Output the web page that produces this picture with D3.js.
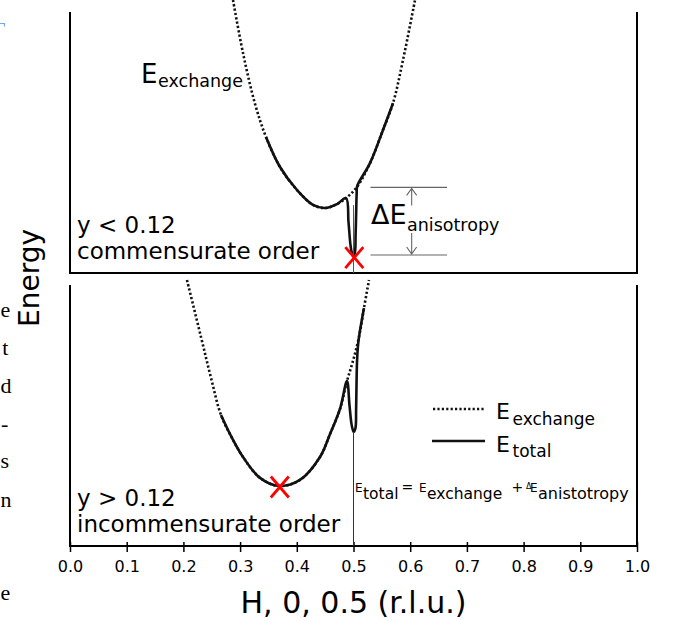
<!DOCTYPE html>
<html>
<head>
<meta charset="utf-8">
<script src="https://cdn.jsdelivr.net/npm/d3@7"></script>
<style>
  body { margin: 0; background: #fff; }
  svg { display: block; }
  text { font-family: "DejaVu Sans", sans-serif; fill: #000; }
</style>
</head>
<body>
<svg id="chart" width="673" height="621"></svg>
<script>
// ---- data -------------------------------------------------------------
// x-axis ticks (H in r.l.u.)
const hTicks = [0.0, 0.1, 0.2, 0.3, 0.4, 0.5, 0.6, 0.7, 0.8, 0.9, 1.0];

// Commensurate order (y < 0.12): exchange energy (arbitrary units)
const commH        = [0.2875, 0.3051, 0.3263, 0.3457, 0.3704, 0.4004, 0.4286, 0.4497, 0.4709, 0.4868, 0.5062, 0.5291, 0.5520, 0.5697, 0.5873, 0.6085];
const commExchange = [10.46, 8.43, 6.48, 5.21, 4.06, 3.18, 2.61, 2.49, 2.64, 2.87, 3.30, 4.21, 5.48, 6.51, 8.16, 10.46];
// Commensurate order: total energy (exchange + anisotropy well at H = 0.5)
const commTotalH   = [0.3457, 0.3704, 0.4004, 0.4286, 0.4497, 0.4709, 0.4868, 0.4912, 0.4947, 0.4974, 0.5000, 0.5026, 0.5037, 0.5048, 0.5056, 0.5065, 0.5291, 0.5520, 0.5697];
const commTotal    = [5.21, 4.06, 3.18, 2.61, 2.49, 2.64, 2.87, 1.95, 1.07, 0.75, 0.63, 0.80, 1.46, 2.41, 3.07, 3.33, 4.21, 5.48, 6.51];

// Incommensurate order (y > 0.12): exchange energy
const incH         = [0.2063, 0.2310, 0.2487, 0.2663, 0.2857, 0.3051, 0.3351, 0.3686, 0.4056, 0.4409, 0.4586, 0.4762, 0.4885, 0.4991, 0.5097, 0.5185, 0.5273];
const incExchange  = [10.19, 8.01, 6.44, 5.02, 4.14, 3.41, 2.61, 2.30, 2.53, 3.41, 4.29, 5.25, 6.32, 7.09, 8.01, 9.12, 10.19];
// Incommensurate order: total energy
const incTotalH    = [0.2663, 0.2857, 0.3051, 0.3351, 0.3686, 0.4056, 0.4409, 0.4586, 0.4762, 0.4885, 0.4929, 0.4965, 0.4991, 0.5005, 0.5035, 0.5046, 0.5053, 0.5062, 0.5076, 0.5097, 0.5185];
const incTotal     = [5.02, 4.14, 3.41, 2.61, 2.30, 2.53, 3.41, 4.29, 5.25, 6.32, 5.40, 4.67, 4.43, 4.37, 4.52, 5.21, 6.17, 7.05, 7.59, 8.01, 9.12];

// Ground states (minimum of the total energy)
const commMinimum = [0.5000, 0.63];
const incMinimum  = [0.3686, 2.30];

// Anisotropy gap drawn in the upper panel
const anisoLevels = [3.28, 0.69];

// Stray characters from the neighbouring text column
const marginChars     = ["e", "t", "d", "-", "s", "n", "e"];
const marginBaselines = [317, 355, 393, 431, 468, 507, 600];

// ---- scales -----------------------------------------------------------
const svg = d3.select("#chart");
const x = d3.scaleLinear().domain([0, 1]).range([70, 637]);
const yTop = d3.scaleLinear().domain([0, 10]).range([273, 12]);
const yBot = d3.scaleLinear().domain([0, 10]).range([546, 285]);

const lineFor = y => d3.line()
  .x(d => x(d[0])).y(d => y(d[1]))
  .curve(d3.curveCatmullRom.alpha(0.5));

// ---- panel frames -----------------------------------------------------
function frame(y) {
  const g = svg.append("g").attr("stroke", "#000").attr("stroke-width", 2).attr("fill", "none");
  const [b, t] = y.range();
  g.append("path").attr("d", `M${x(0)},${t}V${b}H${x(1)}V${t}`);
}
frame(yTop);
frame(yBot);

// bottom axis with ticks crossing the frame line
const axis = d3.axisBottom(x).tickValues(hTicks).tickFormat(d3.format(".1f")).tickSizeOuter(0);
const ax = svg.append("g").attr("transform", `translate(0,${yBot(0)})`).call(axis);
ax.select(".domain").remove();
ax.selectAll(".tick line").attr("y1", -4).attr("y2", 6).attr("stroke", "#000").attr("stroke-width", 1.5);
ax.selectAll(".tick text").attr("y", 25.5).attr("dy", null)
  .style("font-family", "'DejaVu Sans', sans-serif").style("font-size", "16px").attr("fill", "#000");

// axis titles
svg.append("text").attr("x", x(0.5)).attr("y", 613).attr("text-anchor", "middle")
  .style("font-size", "30px").text("H, 0, 0.5 (r.l.u.)");
svg.append("text").attr("transform", "translate(39,278) rotate(-90)").attr("text-anchor", "middle")
  .style("font-size", "28px").text("Energy");

// ---- curves -----------------------------------------------------------
function drawPanel(y, hx, ex, ht, et) {
  svg.append("path").datum(d3.zip(hx, ex)).attr("d", lineFor(y))
    .attr("fill", "none").attr("stroke", "#111").attr("stroke-width", 2.6)
    .attr("stroke-dasharray", "2.2,2.2");
  svg.append("path").datum(d3.zip(ht, et)).attr("d", lineFor(y))
    .attr("fill", "none").attr("stroke", "#111").attr("stroke-width", 2.6)
    .attr("stroke-linejoin", "round");
}
drawPanel(yTop, commH, commExchange, commTotalH, commTotal);
drawPanel(yBot, incH, incExchange, incTotalH, incTotal);

// thin guides at H = 0.5
svg.append("line").attr("x1", x(0.5)).attr("x2", x(0.5)).attr("y1", yTop(2.6)).attr("y2", yTop(0))
  .attr("stroke", "#555").attr("stroke-width", 1);
svg.append("line").attr("x1", x(0.5)).attr("x2", x(0.5)).attr("y1", yBot(incTotal[13])).attr("y2", yBot(0))
  .attr("stroke", "#333").attr("stroke-width", 1);

// anisotropy gap: two level lines and a split double arrow
const gapG = svg.append("g").attr("stroke", "#666").attr("stroke-width", 1.1).attr("fill", "none");
anisoLevels.forEach(v => {
  gapG.append("line").attr("x1", x(0.530)).attr("x2", x(0.665)).attr("y1", yTop(v)).attr("y2", yTop(v));
});
const ax0 = x(0.6026);
const yUp = yTop(anisoLevels[0]), yDn = yTop(anisoLevels[1]);
gapG.append("path").attr("d", `M${ax0},${yUp + 18}V${yUp + 1}M${ax0 - 5},${yUp + 8}L${ax0},${yUp + 1}L${ax0 + 5},${yUp + 8}`);
gapG.append("path").attr("d", `M${ax0},${yDn - 22}V${yDn - 1}M${ax0 - 5},${yDn - 8}L${ax0},${yDn - 1}L${ax0 + 5},${yDn - 8}`);

// ground-state markers
function cross(px, py) {
  svg.append("path").attr("d", `M${px - 9},${py - 10.5}L${px + 9},${py + 10.5}M${px + 9},${py - 10.5}L${px - 9},${py + 10.5}`)
    .attr("stroke", "#ff0000").attr("stroke-width", 2.8).attr("fill", "none");
}
cross(x(commMinimum[0]) + 0.8, yTop(commMinimum[1]) + 1);
cross(x(incMinimum[0]) + 0.8, yBot(incMinimum[1]) + 1);

// ---- text with subscripts --------------------------------------------
function label(parts) {
  const t = svg.append("text");
  parts.forEach(p => {
    t.append("tspan").attr("x", p.x).attr("y", p.y).style("font-size", p.size + "px").text(p.t);
  });
  return t;
}

label([{t: "E", x: 141, y: 82.5, size: 26}, {t: "exchange", x: 158, y: 87, size: 17.5}]);
label([{t: "ΔE", x: 371, y: 224, size: 27}, {t: "anisotropy", x: 407, y: 231, size: 17.5}]);

svg.append("text").attr("x", 77).attr("y", 233).style("font-size", "23px").text("y < 0.12");
svg.append("text").attr("x", 77).attr("y", 259).style("font-size", "23px").text("commensurate order");
svg.append("text").attr("x", 77).attr("y", 506).style("font-size", "23px").text("y > 0.12");
svg.append("text").attr("x", 77).attr("y", 532).style("font-size", "23px").text("incommensurate order");

// legend
svg.append("line").attr("x1", 433).attr("x2", 485).attr("y1", 409).attr("y2", 409)
  .attr("stroke", "#111").attr("stroke-width", 2.6).attr("stroke-dasharray", "2.2,2.2");
svg.append("line").attr("x1", 432).attr("x2", 485).attr("y1", 441).attr("y2", 441)
  .attr("stroke", "#111").attr("stroke-width", 2.6);
label([{t: "E", x: 496, y: 419, size: 22}, {t: "exchange", x: 512.5, y: 425, size: 17}]);
label([{t: "E", x: 496, y: 452, size: 22}, {t: "total", x: 512.5, y: 457, size: 17}]);

// energy balance
label([
  {t: "E", x: 355, y: 492, size: 12},
  {t: "total", x: 363, y: 499, size: 15.5},
  {t: "=", x: 401.5, y: 492, size: 14},
  {t: "E", x: 419, y: 492, size: 12},
  {t: "exchange", x: 427, y: 499, size: 15.5},
  {t: "+", x: 511.5, y: 492, size: 14},
  {t: "Δ", x: 526, y: 489, size: 8},
  {t: "E", x: 530, y: 492, size: 12},
  {t: "anistotropy", x: 538, y: 499, size: 16}
]);

// margin characters of the adjoining page (right-aligned, kept inside the frame)
svg.append("g").selectAll("text").data(d3.zip(marginChars, marginBaselines)).join("text")
  .attr("y", d => d[1]).attr("text-anchor", "end")
  .style("font-family", "'Liberation Serif', serif").style("font-size", "22px").text(d => d[0])
  .attr("x", function () { return Math.max(8.3, this.getComputedTextLength() + 0.5); });
svg.append("path").attr("d", "M0,23.5H4.5V26.5").attr("stroke", "#6aa8f0").attr("stroke-width", 1.2).attr("fill", "none");
</script>
</body>
</html>
